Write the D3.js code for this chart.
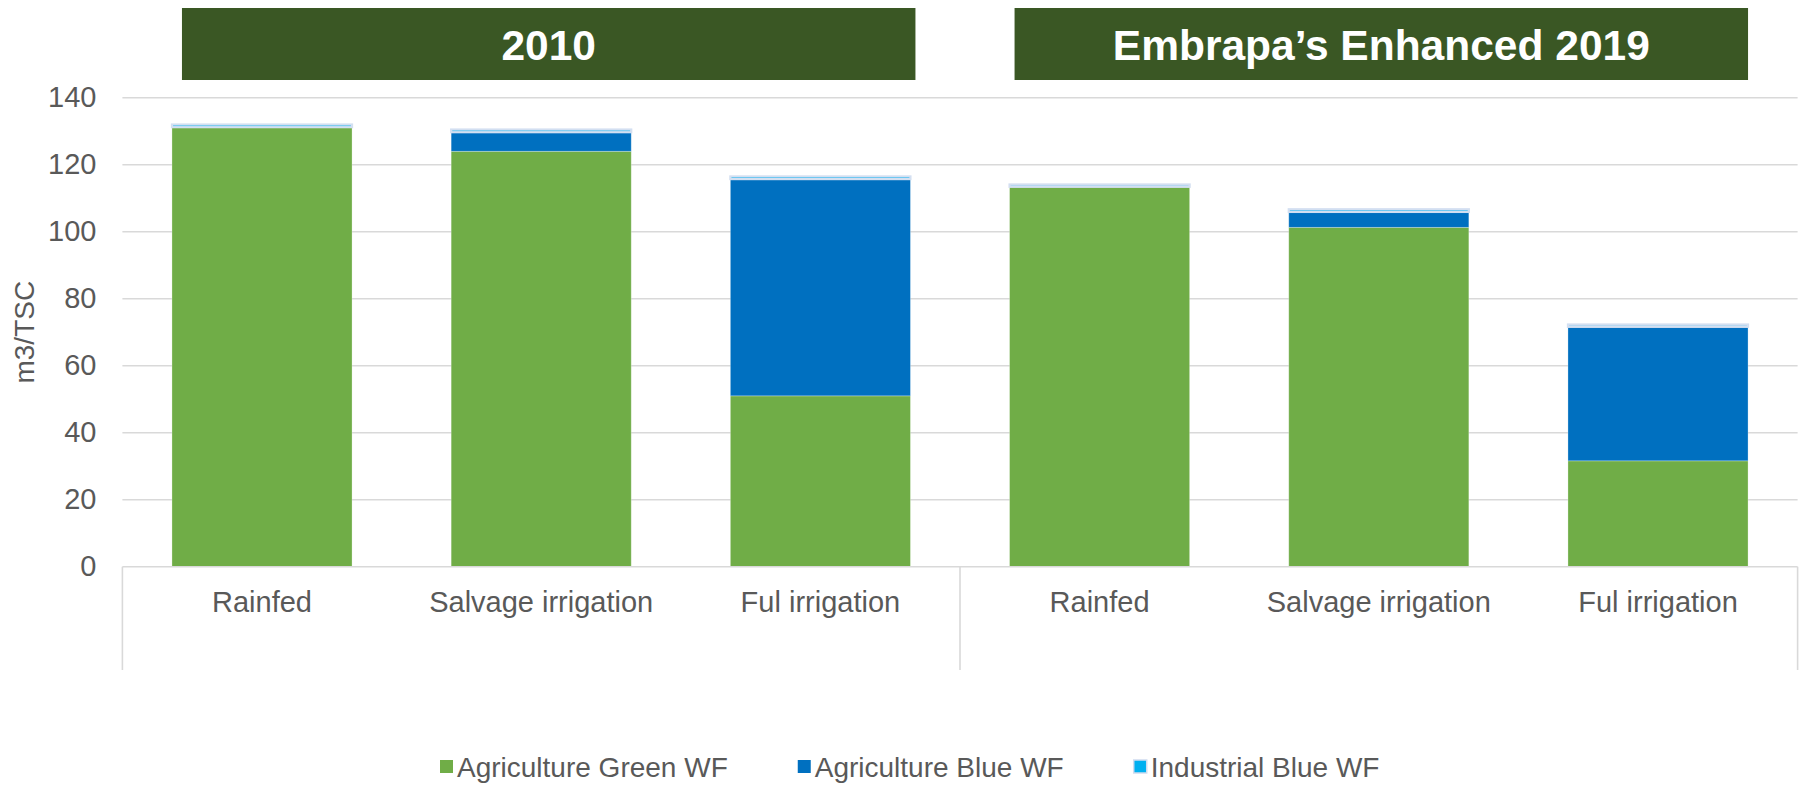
<!DOCTYPE html>
<html>
<head>
<meta charset="utf-8">
<script src="https://cdn.jsdelivr.net/npm/d3@7/dist/d3.min.js"></script>
<style>
  html, body { margin: 0; padding: 0; background: #ffffff; }
  svg { display: block; }
  text { font-family: "Liberation Sans", Arial, sans-serif; }
</style>
</head>
<body>
<svg id="chart" width="1801" height="785"></svg>
<script>
// ---- data ----
const categories = ["Rainfed", "Salvage irrigation", "Ful irrigation", "Rainfed", "Salvage irrigation", "Ful irrigation"];
const groupOf = [0, 0, 0, 1, 1, 1];
const groups = ["2010", "Embrapa\u2019s Enhanced 2019"];
const agricultureGreenWF = [131.2, 124.0, 51.0, 113.4, 101.3, 31.6];
const agricultureBlueWF = [0, 5.7, 64.7, 0, 4.6, 40.0];
const industrialBlueWF = [0.8, 0.8, 0.8, 0.7, 0.8, 0.7];
const seriesNames = ["Agriculture Green WF", "Agriculture Blue WF", "Industrial Blue WF"];
const seriesColors = ["#70AD47", "#0070C0", "#00B0F0"];
const yTicks = [0, 20, 40, 60, 80, 100, 120, 140];
const yLabel = "m3/TSC";

// ---- layout ----
const svg = d3.select("#chart");
const plot = { left: 122.4, right: 1797.6, top: 97.7, bottom: 566.7 };
const textColor = "#595959";
const gridColor = "#d9d9d9";

const x = d3.scaleBand()
  .domain(d3.range(categories.length))
  .range([plot.left, plot.right])
  .paddingInner(0.355)
  .paddingOuter(0.1775);

const y = d3.scaleLinear().domain([0, 140]).range([plot.bottom, plot.top]);

// gridlines
svg.append("g")
  .selectAll("line")
  .data(yTicks.filter(d => d > 0))
  .join("line")
  .attr("x1", plot.left).attr("x2", plot.right)
  .attr("y1", d => y(d)).attr("y2", d => y(d))
  .attr("stroke", gridColor).attr("stroke-width", 1.6);

// y tick labels via axis
const yAxis = svg.append("g")
  .attr("transform", `translate(${plot.left},0)`)
  .call(d3.axisLeft(y).tickValues(yTicks).tickSize(0).tickPadding(26));
yAxis.select(".domain").remove();
yAxis.selectAll("text")
  .attr("fill", textColor)
  .style("font-size", "29px")
  .style("font-family", "'Liberation Sans', Arial, sans-serif");

// y label
svg.append("text")
  .attr("transform", `translate(24,${(plot.top + plot.bottom) / 2}) rotate(-90)`)
  .attr("text-anchor", "middle")
  .attr("dominant-baseline", "central")
  .attr("fill", textColor)
  .style("font-size", "28px")
  .text(yLabel);

// stacked data
const rows = categories.map((c, i) => ({
  i,
  green: agricultureGreenWF[i],
  blue: agricultureBlueWF[i],
  ind: industrialBlueWF[i]
}));
const stack = d3.stack().keys(["green", "blue", "ind"]);
const stacked = stack(rows);

const barG = svg.append("g");
stacked.forEach((layer, li) => {
  barG.append("g")
    .selectAll("rect")
    .data(layer)
    .join("rect")
    .attr("x", d => x(d.data.i))
    .attr("width", x.bandwidth())
    .attr("y", d => y(d[1]))
    .attr("height", d => Math.max(0, y(d[0]) - y(d[1])))
    .attr("fill", seriesColors[li])
    .attr("stroke", li === 2 ? "#d3dff1" : "rgba(255,255,255,0.35)")
    .attr("stroke-width", li === 2 ? 2.2 : 0.8);
});

// x axis baseline
svg.append("line")
  .attr("x1", plot.left).attr("x2", plot.right)
  .attr("y1", plot.bottom).attr("y2", plot.bottom)
  .attr("stroke", gridColor).attr("stroke-width", 1.6);

// group separators
const sepBottom = 670;
const sepXs = [plot.left, (x(2) + x.bandwidth() + x(3)) / 2, plot.right];
svg.append("g").selectAll("line")
  .data(sepXs)
  .join("line")
  .attr("x1", d => d).attr("x2", d => d)
  .attr("y1", plot.bottom).attr("y2", sepBottom)
  .attr("stroke", gridColor).attr("stroke-width", 1.6);

// category labels
svg.append("g").selectAll("text")
  .data(categories)
  .join("text")
  .attr("x", (d, i) => x(i) + x.bandwidth() / 2)
  .attr("y", 602)
  .attr("text-anchor", "middle")
  .attr("dominant-baseline", "central")
  .attr("fill", textColor)
  .style("font-size", "29px")
  .text(d => d);

// group header boxes
const headerTop = 8, headerBottom = 80;
groups.forEach((g, gi) => {
  const idx = d3.range(categories.length).filter(i => groupOf[i] === gi);
  const first = idx[0], last = idx[idx.length - 1];
  const x0 = x(first) + (gi === 0 ? 10 : 5);
  const x1 = x(last) + x.bandwidth() + (gi === 0 ? 5 : 0);
  svg.append("rect")
    .attr("x", x0).attr("y", headerTop)
    .attr("width", x1 - x0).attr("height", headerBottom - headerTop)
    .attr("fill", "#3A5724");
  svg.append("text")
    .attr("x", (x0 + x1) / 2)
    .attr("y", (headerTop + headerBottom) / 2 + 1)
    .attr("text-anchor", "middle")
    .attr("dominant-baseline", "central")
    .attr("fill", "#ffffff")
    .style("font-size", "42.5px")
    .style("font-weight", "bold")
    .text(g);
});

// legend
const legend = svg.append("g");
let lx = 440;
const ly = 767;
seriesNames.forEach((name, si) => {
  const item = legend.append("g");
  item.append("rect")
    .attr("x", lx).attr("y", ly - 7)
    .attr("width", 13).attr("height", 13)
    .attr("fill", seriesColors[si])
    .attr("stroke", si === 2 ? "#cfdcef" : "none")
    .attr("stroke-width", si === 2 ? 1.5 : 0);
  const t = item.append("text")
    .attr("x", lx + 17).attr("y", ly)
    .attr("dominant-baseline", "central")
    .attr("fill", textColor)
    .style("font-size", "28px")
    .text(name);
  const w = t.node().getComputedTextLength();
  lx = lx + 17 + w + 70;
});
</script>
</body>
</html>
